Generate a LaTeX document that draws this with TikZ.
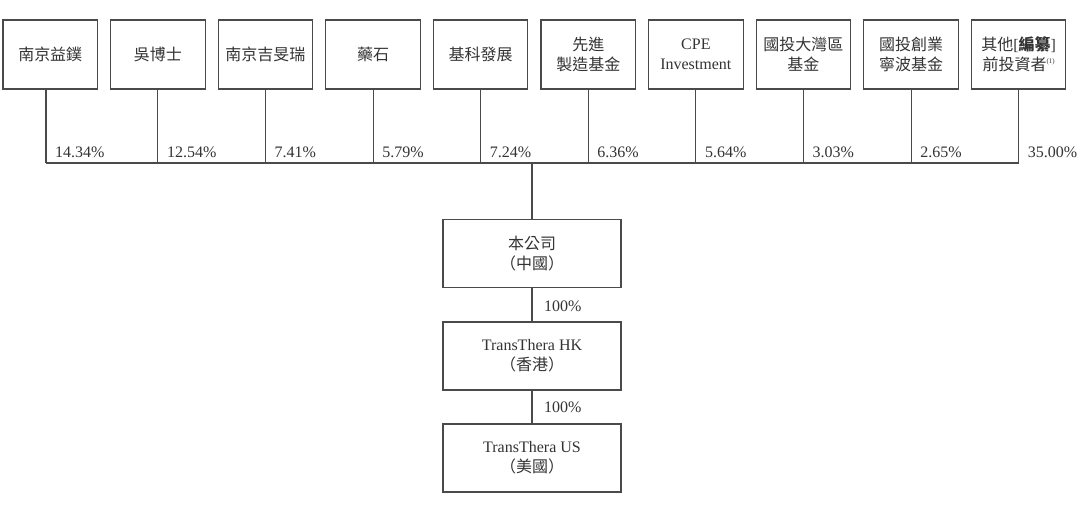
\documentclass[tikz,border=0pt]{standalone}
\usepackage{fontspec}
\setmainfont{Liberation Serif}
\newfontfamily\cjk{Noto Sans CJK TC}
\definecolor{linec}{HTML}{4A4A4A}
\definecolor{textc}{HTML}{333333}
\begin{document}
\begin{tikzpicture}[x=1pt,y=-1pt,
  topbox/.style={draw=linec, line width=1.1pt, minimum width=94.5pt, minimum height=69pt, inner sep=0pt, align=center, text=textc, font=\fontsize{16}{20}\selectfont},
  midbox/.style={draw=linec, line width=1.1pt, minimum width=178pt, minimum height=68pt, inner sep=0pt, align=center, text=textc, font=\fontsize{16}{20}\selectfont},
  pct/.style={anchor=base west, inner sep=0pt, text=textc, font=\fontsize{16}{20}\selectfont},
  conn/.style={draw=linec, line width=1.1pt}]
\useasboundingbox (0,0) rectangle (1080,515);
% top boxes
\node[topbox] (b1)  at (50.25,54.5)  {\cjk 南京益鏷};
\node[topbox] (b2)  at (157.85,54.5) {\cjk 吳博士};
\node[topbox] (b3)  at (265.45,54.5) {\cjk 南京吉旻瑞};
\node[topbox] (b4)  at (373.05,54.5) {\cjk 藥石};
\node[topbox] (b5)  at (480.65,54.5) {\cjk 基科發展};
\node[topbox] (b6)  at (588.25,54.5) {\cjk 先進\\\cjk 製造基金};
\node[topbox] (b7)  at (695.85,54.5) {CPE\\Investment};
\node[topbox] (b8)  at (803.45,54.5) {\cjk 國投大灣區\\\cjk 基金};
\node[topbox] (b9)  at (911.05,54.5) {\cjk 國投創業\\\cjk 寧波基金};
\node[topbox] (b10) at (1018.65,54.5) {{\cjk 其他}[{\cjk\bfseries 編纂}]\\{\cjk 前投資者}\raisebox{0.45em}{\fontsize{7}{8}\selectfont(1)}};
% junctions on the bus
\coordinate (j1)  at (46,163);
\coordinate (j2)  at (157.85,163);
\coordinate (j3)  at (265.45,163);
\coordinate (j4)  at (373.05,163);
\coordinate (j5)  at (480.65,163);
\coordinate (j6)  at (588.25,163);
\coordinate (j7)  at (695.85,163);
\coordinate (j8)  at (803.45,163);
\coordinate (j9)  at (911.05,163);
\coordinate (j10) at (1018.65,163);
% verticals
\foreach \i in {1,...,10} {\draw[conn] (b\i.south -| j\i) -- (j\i);}
\draw[conn] (j1) -- (j10);
% percentages
\node[pct] (p1)  at (55,157)     {14.34\%};
\node[pct] (p2)  at (166.85,157) {12.54\%};
\node[pct] (p3)  at (274.45,157) {7.41\%};
\node[pct] (p4)  at (382.05,157) {5.79\%};
\node[pct] (p5)  at (489.65,157) {7.24\%};
\node[pct] (p6)  at (597.25,157) {6.36\%};
\node[pct] (p7)  at (704.85,157) {5.64\%};
\node[pct] (p8)  at (812.45,157) {3.03\%};
\node[pct] (p9)  at (920.05,157) {2.65\%};
\node[pct] (p10) at (1027.65,157) {35.00\%};
% middle chain
\node[midbox] (m1) at (532,253.5) {\cjk 本公司\\\cjk （中國）};
\node[midbox] (m2) at (532,356)   {TransThera HK\\\cjk （香港）};
\node[midbox] (m3) at (532,458)   {TransThera US\\\cjk （美國）};
\draw[conn] (m1.north |- j1) -- (m1.north);
\draw[conn] (m1.south) -- (m2.north);
\draw[conn] (m2.south) -- (m3.north);
\node[pct] (q1) at (544,311) {100\%};
\node[pct] (q2) at (544,412) {100\%};
\end{tikzpicture}
\end{document}
